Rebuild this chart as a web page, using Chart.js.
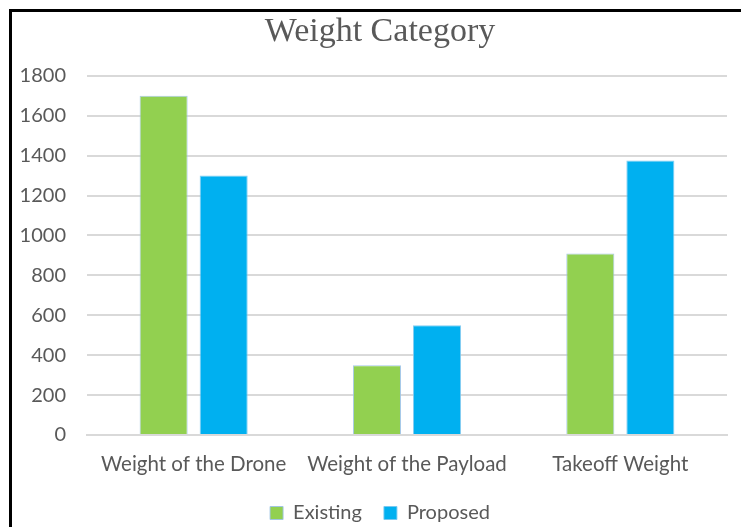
<!DOCTYPE html>
<html>
<head>
<meta charset="utf-8">
<script src="https://cdn.jsdelivr.net/npm/chart.js@4/dist/chart.umd.min.js"></script>
<style>
  body { margin: 0; background: #fff; }
  #frame {
    position: absolute; left: 9px; top: 9px;
    width: 732px; height: 518px; overflow: hidden;
    border-top: 3px solid #000; border-left: 3px solid #000;
  }
  #frame canvas { display: block; }
</style>
</head>
<body>
<div id="frame"><canvas id="chart" width="729" height="521"></canvas></div>
<script>
// values
var categories = ["Weight of the Drone", "Weight of the Payload", "Takeoff Weight"];
var existing = [1700, 350, 910];
var proposed = [1300, 550, 1375];
var yTicks = [0, 200, 400, 600, 800, 1000, 1200, 1400, 1600, 1800];

var grey = "#595959";

Chart.defaults.font.family = "Lato";
Chart.defaults.color = grey;

// title and legend sit a little right of the canvas centre in the original
var nudge = {
  id: "nudge",
  afterLayout: function(chart) {
    [chart.titleBlock, chart.legend].forEach(function(b) {
      if (b) { b.left += 10.5; b.right += 10.5; }
    });
  }
};

var data = {
  labels: categories,
  datasets: [{
    label: "Existing",
    data: existing,
    backgroundColor: "#92D050",
    borderColor: "rgba(157,195,230,0.9)",
    borderWidth: 1
  }, {
    label: "Proposed",
    data: proposed,
    backgroundColor: "#00B0F0",
    borderColor: "rgba(120,200,240,0.9)",
    borderWidth: 1
  }]
};

var config = {
  type: "bar",
  data: data,
  plugins: [nudge],
  options: {
    responsive: false,
    animation: false,
    layout: { padding: { left: 0, right: 14, top: 0, bottom: 0 } },
    datasets: { bar: { categoryPercentage: 0.563, barPercentage: 0.8 } },
    plugins: {
      title: {
        display: true,
        text: "Weight Category",
        color: grey,
        font: { family: "Liberation Serif", size: 34, weight: "normal" },
        padding: { top: 0, bottom: 23 }
      },
      legend: {
        position: "bottom",
        labels: {
          boxWidth: 13, boxHeight: 13,
          font: { size: 20 },
          color: grey,
          padding: 22
        }
      },
      tooltip: { enabled: false }
    },
    scales: {
      x: {
        afterFit: function(scale) { scale.height = 46; },
        grid: { display: false, drawTicks: false },
        border: { display: true, color: "#d9d9d9", width: 2 },
        ticks: { font: { size: 20.5 }, color: grey, padding: 17, maxRotation: 0 }
      },
      y: {
        min: 0, max: 1800,
        afterBuildTicks: function(scale) {
          scale.ticks = yTicks.map(function(v) { return { value: v }; });
        },
        afterFit: function(scale) { scale.width = 75; },
        grid: { color: "#d9d9d9", lineWidth: 2, drawTicks: false },
        border: { display: false },
        ticks: {
          font: { size: 20 }, color: grey, padding: 21,
          callback: function(v) { return String(v); }
        }
      }
    }
  }
};

var chart = new Chart(document.getElementById("chart"), config);
</script>
</body>
</html>
